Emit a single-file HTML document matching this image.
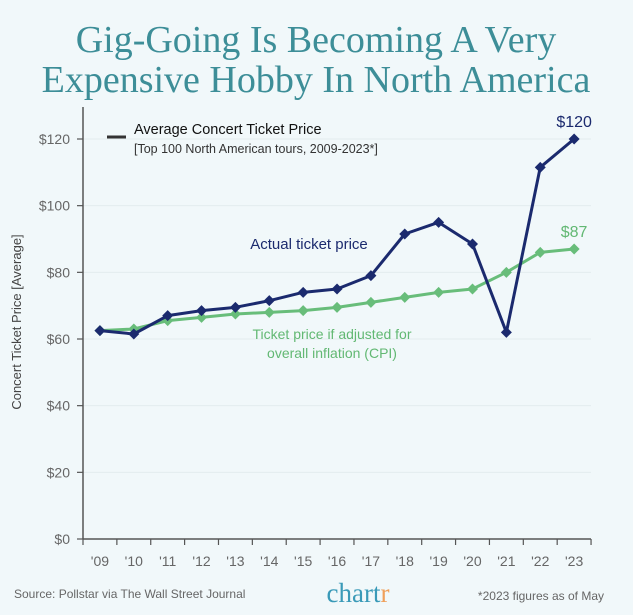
<!DOCTYPE html>
<html><head><meta charset="utf-8">
<style>
html,body{margin:0;padding:0;background:#f1f8fa;}
body{width:633px;height:610px;overflow:hidden;font-family:"Liberation Sans",sans-serif;}
</style></head>
<body>
<svg width="633" height="610" viewBox="0 0 633 610" id="svg">
<rect x="0" y="0" width="633" height="610" fill="#f1f8fa"/>
<text x="316" y="52" text-anchor="middle" font-family="Liberation Serif, serif" font-size="38" fill="#3d8e98">Gig-Going Is Becoming A Very</text>
<text x="316" y="92" text-anchor="middle" font-family="Liberation Serif, serif" font-size="38" fill="#3d8e98">Expensive Hobby In North America</text>
<g id="grid"></g>
<g id="axes"></g>
<line x1="107" y1="137" x2="126" y2="137" stroke="#333" stroke-width="3"/>
<text x="134" y="134" font-size="14.5" fill="#111">Average Concert Ticket Price</text>
<text x="134" y="153" font-size="12.5" fill="#333">[Top 100 North American tours, 2009-2023*]</text>
<text x="21" y="322" font-size="13" fill="#444" text-anchor="middle" transform="rotate(-90 21 322)">Concert Ticket Price [Average]</text>
<text x="309" y="249" font-size="15" fill="#1b2a6e" text-anchor="middle">Actual ticket price</text>
<text x="332" y="339" font-size="14" fill="#62b873" text-anchor="middle">Ticket price if adjusted for</text>
<text x="332" y="358" font-size="14" fill="#62b873" text-anchor="middle">overall inflation (CPI)</text>
<g id="series"></g>
<text x="14" y="598" font-size="12" fill="#666">Source: Pollstar via The Wall Street Journal</text>
<text x="358" y="602" font-size="27" font-family="Liberation Serif, serif" fill="#3a9ab8" text-anchor="middle">chart<tspan fill="#f0a05a">r</tspan></text>
<text x="604" y="600" font-size="12" fill="#666" text-anchor="end">*2023 figures as of May</text>
</svg>
<script>
const years=["'09","'10","'11","'12","'13","'14","'15","'16","'17","'18","'19","'20","'21","'22","'23"];
const actual=[62.5,61.5,67,68.5,69.5,71.5,74,75,79,91.5,95,88.5,62,111.5,120];
const cpi=[62.5,63,65.5,66.5,67.5,68,68.5,69.5,71,72.5,74,75,80,86,87];
const yTicks=[0,20,40,60,80,100,120];
const NS="http://www.w3.org/2000/svg";
const x0=83,band=33.87,yBase=539,pxPer=400/120;
function xs(i){return x0+band*(i+0.5);}
function ys(v){return yBase-v*pxPer;}
function mk(t,a,p){const e=document.createElementNS(NS,t);for(const k in a)e.setAttribute(k,a[k]);p.appendChild(e);return e;}
const grid=document.getElementById('grid'),axes=document.getElementById('axes'),ser=document.getElementById('series');
yTicks.forEach(v=>{
 if(v>0){const g=mk('line',{x1:x0,x2:591,y1:ys(v),y2:ys(v),stroke:'#e3ecee','stroke-width':1},grid);
 
 }
 const t=mk('line',{x1:x0-6,x2:x0,y1:ys(v),y2:ys(v),stroke:'#555','stroke-width':1.2},axes);
 
 
 const l=mk('text',{x:x0-13,y:ys(v)+5,'text-anchor':'end','font-size':14,fill:'#666'},axes);
 l.textContent='$'+v;
 
 
});
const ya=mk('line',{x1:x0,x2:x0,y1:107,y2:yBase,stroke:'#555','stroke-width':1.5},axes);


const xa=mk('line',{x1:x0,x2:591,y1:yBase,y2:yBase,stroke:'#555','stroke-width':1.5},axes);


for(let i=0;i<=years.length;i++){
 const t=mk('line',{x1:x0+band*i,x2:x0+band*i,y1:yBase,y2:yBase+6,stroke:'#555','stroke-width':1.2},axes);
 
 
}
years.forEach((y,i)=>{
 const l=mk('text',{x:xs(i),y:yBase+27,'text-anchor':'middle','font-size':14,fill:'#666'},axes);
 l.textContent=y;
 
 
});
function draw(vals,color,name){
 const p=mk('polyline',{points:vals.map((v,i)=>xs(i)+','+ys(v)).join(' '),fill:'none',stroke:color,'stroke-width':3,'stroke-linejoin':'round'},ser);
 
 
 vals.forEach((v,i)=>{
  const cx=xs(i),cy=ys(v),r=5.5;
  const d=mk('polygon',{points:`${cx},${cy-r} ${cx+r},${cy} ${cx},${cy+r} ${cx-r},${cy}`,fill:color},ser);
  
  
 });
}
draw(cpi,'#68bd7a','cpi');
draw(actual,'#1b2a6e','actual');
const n=years.length-1;
const la=mk('text',{x:xs(n),y:ys(actual[n])-12,'text-anchor':'middle','font-size':16,fill:'#1b2a6e'},ser);
la.textContent='$'+actual[n];


const lc=mk('text',{x:xs(n),y:ys(cpi[n])-12,'text-anchor':'middle','font-size':16,fill:'#62b873'},ser);
lc.textContent='$'+cpi[n];


</script>
</body></html>
